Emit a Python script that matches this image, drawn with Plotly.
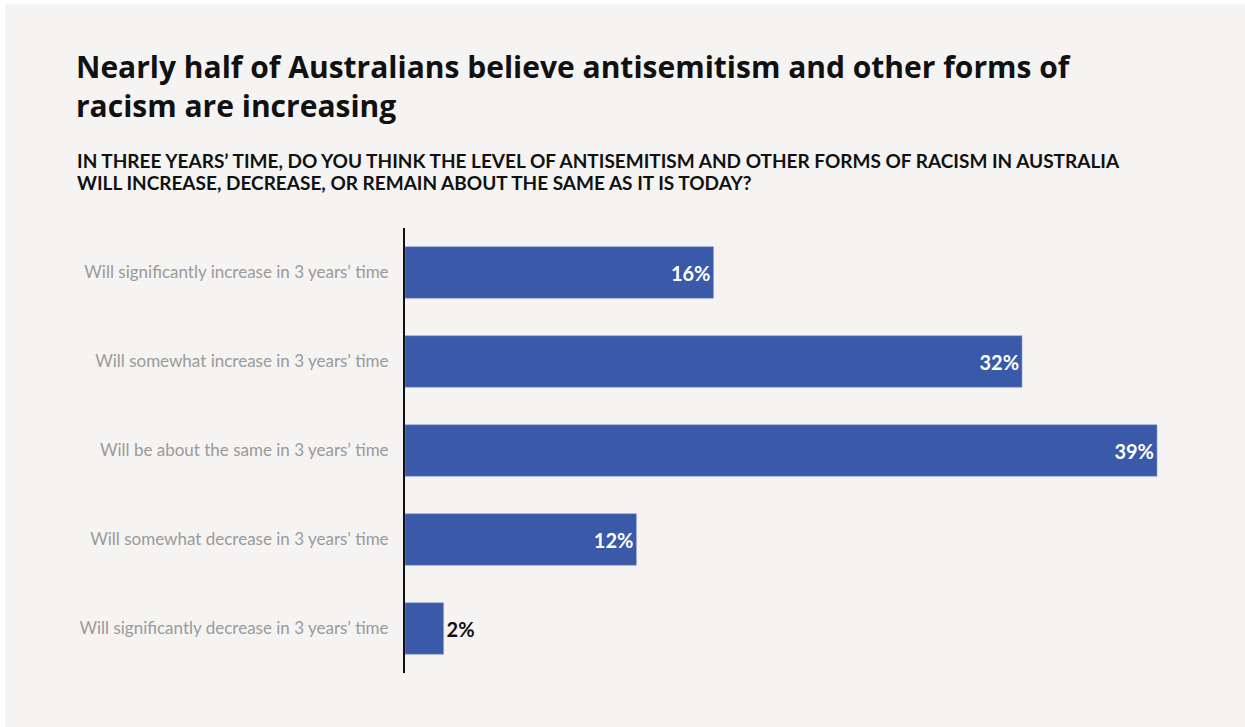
import plotly.graph_objects as go

# Survey responses (top to bottom as shown)
categories = [
    "Will significantly increase in 3 years’ time",
    "Will somewhat increase in 3 years’ time",
    "Will be about the same in 3 years’ time",
    "Will somewhat decrease in 3 years’ time",
    "Will significantly decrease in 3 years’ time",
]
values = [16, 32, 39, 12, 2]
labels = ["16%", "32%", "39%", "12%", "2%"]

title_lines = [
    "Nearly half of Australians believe antisemitism and other forms of",
    "racism are increasing",
]
subtitle_lines = [
    "IN THREE YEARS’ TIME, DO YOU THINK THE LEVEL OF ANTISEMITISM AND OTHER FORMS OF RACISM IN AUSTRALIA",
    "WILL INCREASE, DECREASE, OR REMAIN ABOUT THE SAME AS IT IS TODAY?",
]

W, H = 1245, 727
M_L, M_R, M_T, M_B = 405, 45, 228, 54
PW, PH = W - M_L - M_R, H - M_T - M_B

BAR = "#3a59a8"
PANEL = "#f5f4f2"
FONT = "Lato"
TITLE_FONT = "Open Sans"


def px_x(x):
    return (x - M_L) / PW


def px_y(y):
    return (H - M_B - y) / PH


# small bars get their label outside in dark text
positions = ["inside" if v >= 5 else "outside" for v in values]
text_colors = ["white" if v >= 5 else "#111111" for v in values]

fig = go.Figure(
    go.Bar(
        x=values,
        y=categories,
        orientation="h",
        marker=dict(color=BAR, line=dict(color="#8fa2d0", width=0.6)),
        text=labels,
        textposition=positions,
        insidetextanchor="end",
        textfont=dict(family=FONT, size=20, color=text_colors, weight="bold"),
        cliponaxis=False,
        hoverinfo="skip",
    )
)

fig.update_layout(
    width=W,
    height=H,
    margin=dict(l=M_L, r=M_R, t=M_T, b=M_B),
    paper_bgcolor="white",
    plot_bgcolor=PANEL,
    bargap=0.42,
    showlegend=False,
    uniformtext=dict(mode=False),
    font=dict(family=FONT),
)

fig.update_xaxes(
    range=[0, 39 * PW / 752],
    visible=False,
    showgrid=False,
    zeroline=False,
)
fig.update_yaxes(
    categoryorder="array",
    categoryarray=categories[::-1],
    showgrid=False,
    zeroline=False,
    showline=True,
    linecolor="#111111",
    linewidth=2,
    ticks="",
    ticklabelstandoff=11,
    tickfont=dict(family=FONT, size=17, color="#9a9a9a"),
)

# light panel behind everything, leaving a thin white edge top/left
fig.add_shape(
    type="rect",
    xref="paper",
    yref="paper",
    x0=px_x(5),
    x1=px_x(W + 2),
    y0=px_y(H + 2),
    y1=px_y(4),
    fillcolor=PANEL,
    line=dict(width=0),
    layer="below",
)

# headline as one wrapped text block
fig.add_annotation(
    text="<br>".join(title_lines),
    xref="paper",
    yref="paper",
    x=px_x(74),
    y=px_y(86),
    xanchor="left",
    yanchor="middle",
    align="left",
    showarrow=False,
    font=dict(family=TITLE_FONT, size=30, color="#111111", weight="bold"),
)

for line, yc in zip(subtitle_lines, [160.5, 182.5]):
    fig.add_annotation(
        text=line,
        xref="paper",
        yref="paper",
        x=px_x(75),
        y=px_y(yc),
        xanchor="left",
        yanchor="middle",
        showarrow=False,
        font=dict(family=FONT, size=19, color="#111111", weight="bold"),
    )

fig.write_html("out.html")
